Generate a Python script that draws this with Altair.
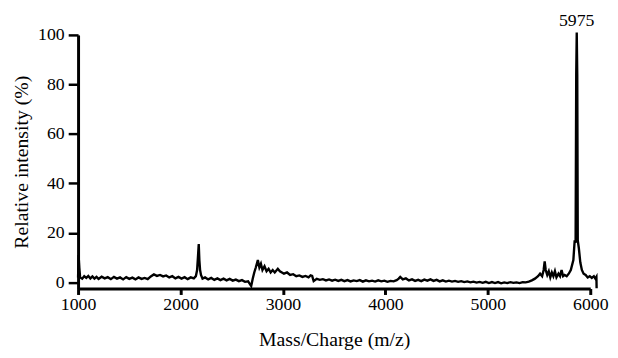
import altair as alt
import pandas as pd

# Spectrum (m/z, relative intensity %)
mz = [1000, 1005, 1012, 1020, 1040, 1060, 1080, 1100, 1120, 1140, 1160, 1180, 1200, 1230, 1260, 1290,
      1320, 1350, 1380, 1410, 1440, 1470, 1500, 1530, 1560, 1590, 1620, 1650, 1680, 1710, 1740, 1770,
      1800, 1830, 1860, 1890, 1920, 1950, 1980, 2010, 2040, 2070, 2100, 2130, 2150, 2162, 2170, 2178,
      2184, 2191, 2200, 2215, 2240, 2270, 2300, 2330, 2360, 2390, 2420, 2450, 2480, 2510, 2540, 2570,
      2600, 2630, 2660, 2690, 2705, 2720, 2735, 2755, 2770, 2785, 2800, 2820, 2840, 2860, 2880, 2900,
      2920, 2950, 2970, 2990, 3010, 3040, 3070, 3100, 3130, 3160, 3190, 3220, 3250, 3270, 3285, 3300,
      3330, 3360, 3390, 3420, 3450, 3480, 3510, 3540, 3570, 3600, 3630, 3660, 3690, 3720, 3750, 3780,
      3810, 3840, 3870, 3900, 3930, 3960, 3990, 4020, 4050, 4080, 4110, 4130, 4145, 4170, 4200, 4230,
      4260, 4290, 4320, 4350, 4380, 4410, 4440, 4470, 4500, 4530, 4560, 4590, 4620, 4650, 4680, 4710,
      4740, 4770, 4800, 4830, 4860, 4890, 4920, 4950, 4980, 5010, 5040, 5070, 5100, 5130, 5160, 5190,
      5220, 5250, 5280, 5310, 5340, 5370, 5400, 5430, 5460, 5490, 5510, 5530, 5545, 5555, 5565, 5580,
      5595, 5610, 5625, 5640, 5655, 5670, 5690, 5705, 5720, 5735, 5750, 5770, 5790, 5810, 5835, 5848,
      5857, 5863, 5868, 5873, 5878, 5888, 5903, 5918, 5935, 5955, 5975, 5995, 6015, 6035, 6050, 6060,
      6062]
intensity = [2.0, 11.0, 6.0, 2.0, 1.5, 2.5, 1.8, 2.6, 1.6, 2.4, 1.5, 2.2, 1.4, 2.3, 1.6, 2.1,
             1.3, 2.2, 1.5, 2.0, 1.2, 2.1, 1.4, 1.9, 1.2, 2.0, 1.4, 1.8, 1.3, 2.4, 3.2, 2.6,
             3.0, 2.4, 2.8, 2.0, 2.5, 1.6, 2.2, 1.5, 2.1, 1.3, 2.0, 1.6, 2.5, 5.0, 10.0, 15.5,
             9.0, 5.0, 3.0, 1.5, 2.0, 1.2, 1.8, 1.0, 1.6, 0.9, 1.5, 0.8, 1.4, 0.7, 1.1, 0.5,
             0.9, 0.2, 0.4, -1.5, 1.5, 4.0, 6.0, 9.0, 6.0, 7.5, 5.0, 6.5, 4.5, 5.5, 4.0, 5.0,
             4.0, 5.5, 4.5, 4.0, 3.5, 4.0, 3.0, 3.3, 2.5, 2.8, 2.2, 2.6, 2.0, 2.8, 2.6, 0.5,
             1.4, 1.0, 1.3, 0.8, 1.2, 0.7, 1.1, 0.6, 1.0, 0.5, 0.9, 0.4, 0.8, 0.5, 0.9, 0.3,
             0.8, 0.4, 0.7, 0.3, 0.8, 0.4, 0.7, 0.2, 0.6, 0.4, 0.9, 1.5, 2.2, 1.2, 1.6, 0.8,
             1.2, 0.6, 1.0, 0.5, 1.1, 0.7, 1.2, 0.6, 1.0, 0.4, 0.8, 0.3, 0.7, 0.3, 0.6, 0.2,
             0.5, 0.1, 0.4, 0.0, 0.3, -0.1, 0.2, -0.2, 0.2, -0.3, 0.1, -0.3, 0.1, -0.4, 0.0, -0.3,
             0.1, -0.2, 0.0, -0.3, 0.1, 0.0, 0.3, 0.8, 1.5, 2.5, 3.5, 2.5, 5.0, 8.5, 5.0, 3.0,
             4.5, 2.0, 4.0, 2.5, 4.5, 2.0, 3.5, 2.5, 5.0, 2.5, 3.0, 2.5, 3.5, 5.0, 9.0, 17.0,
             16.0, 84.0, 101.0, 84.0, 17.0, 14.0, 8.0, 5.0, 3.5, 3.0, 2.0, 2.5, 1.8, 2.5, 1.5, 2.2,
             -2.4]

peak_mz = [5868]
peak_int = [101.0]
peak_text = ["5975"]

x_ticks = [1000, 2000, 3000, 4000, 5000, 6000]
y_ticks = [0, 10, 20, 30, 40, 50, 60, 70, 80, 90, 100]

FONT = "Liberation Serif"

df = pd.DataFrame({"mz": mz, "intensity": intensity})
df["order"] = range(len(df))
peak_df = pd.DataFrame({"mz": peak_mz, "intensity": peak_int, "text": peak_text})

x_enc = alt.X("mz:Q",
              scale=alt.Scale(domain=[1000, 6000], nice=False, zero=False),
              axis=alt.Axis(values=x_ticks, title="Mass/Charge (m/z)", format="d",
                            grid=False, domainWidth=3, tickWidth=3, tickSize=6,
                            labelPadding=1, titlePadding=17, labelFlush=False))
y_enc = alt.Y("intensity:Q",
              scale=alt.Scale(domain=[-2.5, 100], nice=False, zero=False),
              axis=alt.Axis(values=y_ticks, title="Relative intensity (%)",
                            labelExpr="datum.value % 20 == 0 ? datum.label : ''",
                            grid=False, domainWidth=3, tickWidth=2.5, tickSize=10,
                            labelPadding=4, titlePadding=6))

line = alt.Chart(df).mark_line(color="black", strokeWidth=2.4, clip=False).encode(
    x=x_enc, y=y_enc, order="order:Q")

label = alt.Chart(peak_df).mark_text(dy=-12, fontSize=18, font=FONT, color="black").encode(
    x="mz:Q", y="intensity:Q", text="text:N")

chart = (line + label).properties(
    width=519, height=257,
    autosize=alt.AutoSizeParams(type="none"),
    padding={"left": 71, "top": 25, "right": 20, "bottom": 60},
).configure_view(stroke=None).configure_axis(
    domainColor="black", tickColor="black", labelColor="black", titleColor="black",
    labelFont=FONT, titleFont=FONT, labelFontSize=18, titleFontSize=20,
    titleFontWeight="normal"
)

chart.save("out.html", embed_options={"renderer": "svg", "actions": False})
